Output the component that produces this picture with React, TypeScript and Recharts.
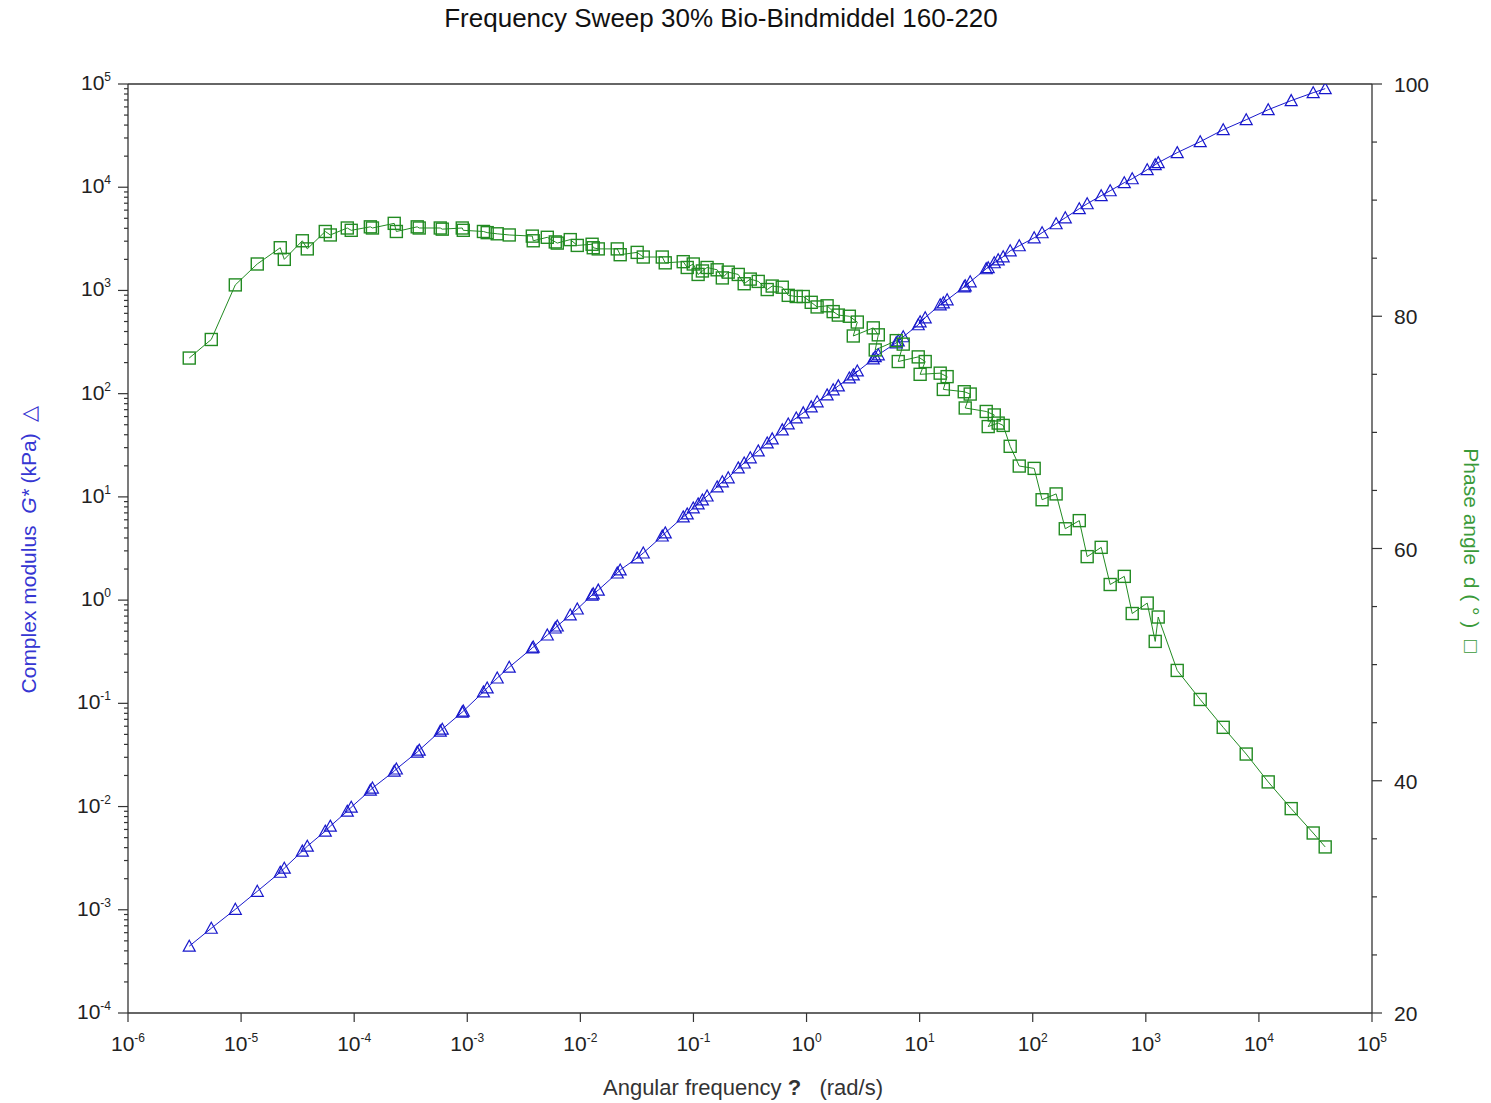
import { Label, Line, LineChart, ReferenceLine, XAxis, YAxis } from "recharts"

// master curve
const omega = [
  3.48e-6, 5.45e-6, 8.89e-6, 1.39e-5, 2.22e-5, 2.41e-5, 3.48e-5, 3.85e-5, 5.55e-5, 6.15e-5,
  8.69e-5, 9.42e-5, 1.39e-4, 1.45e-4, 2.26e-4, 2.36e-4, 3.61e-4, 3.76e-4, 5.77e-4, 6.01e-4,
  9.03e-4, 9.22e-4, 1.39e-3, 1.5e-3, 1.84e-3, 2.35e-3, 3.76e-3, 3.83e-3, 5.1e-3, 6.0e-3,
  6.25e-3, 8.14e-3, 9.39e-3, 1.27e-2, 1.3e-2, 1.44e-2, 2.12e-2, 2.25e-2, 3.18e-2, 3.6e-2,
  5.3e-2, 5.63e-2, 8.12e-2, 8.81e-2, 9.96e-2, 0.11, 0.12, 0.132, 0.162, 0.18,
  0.203, 0.249, 0.281, 0.318, 0.374, 0.449, 0.497, 0.61, 0.689, 0.811,
  0.935, 1.1, 1.24, 1.52, 1.72, 1.91, 2.39, 2.81, 2.59, 3.89,
  4.31, 4.05, 6.21, 7.16, 6.47, 9.72, 11.2, 10.1, 15.2, 17.5,
  16.2, 24.8, 28.0, 25.3, 38.8, 45.7, 40.4, 49.5, 54.8, 63.2,
  76.0, 103, 121, 161, 194, 258, 303, 403, 484, 645,
  758, 1029, 1211, 1287, 1895, 3027, 4835, 7723, 12085, 19300,
  30200, 38560,
]

// complex modulus G* (kPa)
const gStar = [
  4.44e-4, 6.62e-4, 1.01e-3, 1.51e-3, 2.31e-3, 2.53e-3, 3.7e-3, 4.13e-3, 5.78e-3, 6.46e-3,
  9.02e-3, 9.86e-3, 1.44e-2, 1.51e-2, 2.2e-2, 2.31e-2, 3.37e-2, 3.52e-2, 5.38e-2, 5.62e-2,
  8.22e-2, 8.41e-2, 0.129, 0.141, 0.176, 0.224, 0.344, 0.351, 0.459, 0.537,
  0.561, 0.718, 0.82, 1.12, 1.15, 1.25, 1.83, 1.96, 2.56, 2.86,
  4.18, 4.48, 6.4, 6.84, 7.82, 8.55, 9.34, 10.2, 12.5, 14.0,
  15.3, 19.1, 21.3, 23.9, 27.9, 33.3, 36.5, 44.6, 50.9, 58.2,
  65.2, 74.5, 83.4, 97.3, 109, 119, 142, 166, 152, 217,
  238, 228, 311, 356, 325, 465, 543, 497, 726, 811,
  759, 1084, 1213, 1109, 1622, 1854, 1660, 1982, 2118, 2421,
  2710, 3236, 3622, 4426, 5058, 6194, 6918, 8279, 9247, 11070,
  12080, 14790, 16520, 17300, 21630, 27610, 36060, 45080, 56360, 69020,
  82410, 90160,
]

// phase angle (deg)
const phase = [
  76.4, 78.0, 82.7, 84.5, 85.9, 84.9, 86.5, 85.8, 87.3, 87.0,
  87.6, 87.4, 87.7, 87.6, 88.0, 87.3, 87.7, 87.6, 87.6, 87.5,
  87.6, 87.4, 87.3, 87.2, 87.1, 87.0, 86.9, 86.5, 86.8, 86.4,
  86.3, 86.6, 86.1, 86.2, 85.9, 85.8, 85.8, 85.3, 85.5, 85.1,
  85.1, 84.6, 84.7, 84.2, 84.5, 83.6, 83.9, 84.2, 84.0, 83.3,
  83.8, 83.6, 82.8, 83.2, 83.0, 82.3, 82.6, 82.5, 81.8, 81.7,
  81.7, 81.2, 80.8, 80.9, 80.4, 80.1, 80.0, 79.5, 78.3, 79.0,
  78.4, 77.1, 77.9, 77.6, 76.1, 76.5, 76.1, 75.0, 75.1, 74.8,
  73.7, 73.5, 73.3, 72.1, 71.8, 71.5, 70.5, 70.8, 70.6, 68.8,
  67.1, 66.9, 64.2, 64.7, 61.7, 62.4, 59.3, 60.1, 56.9, 57.6,
  54.4, 55.3, 52.0, 54.1, 49.5, 47.0, 44.6, 42.3, 39.9, 37.6,
  35.5, 34.3,
]

const xTicks = [1e-6, 1e-5, 1e-4, 1e-3, 1e-2, 1e-1, 1, 1e1, 1e2, 1e3, 1e4, 1e5]
const gDecades = [1e-4, 1e-3, 1e-2, 1e-1, 1, 1e1, 1e2, 1e3, 1e4, 1e5]
const gTicks = gDecades.flatMap((d, i) =>
  i === gDecades.length - 1 ? [d] : [1, 2, 3, 4, 5, 6, 7, 8, 9].map((m) => d * m)
)
const phaseTicks = [20, 25, 30, 35, 40, 45, 50, 55, 60, 65, 70, 75, 80, 85, 90, 95, 100]
const phaseLabels = [20, 40, 60, 80, 100]

const data = omega.map((w, i) => ({ omega: w, g: gStar[i], d: phase[i] }))

const AXIS = "#333"
const BLUE = "#1818cc"
const GREEN = "#228b22"
const FONT = "'Liberation Sans', Arial, sans-serif"

const exponent = (v: number) => Math.round(Math.log10(v))
const isDecade = (v: number) => Math.abs(Math.log10(v) - exponent(v)) < 1e-6

const LeftTick = ({ x, y, payload }: any) => {
  const v = payload.value
  const major = isDecade(v)
  return (
    <g>
      <line x1={x - (major ? 10 : 4)} x2={x} y1={y} y2={y} stroke={AXIS} strokeWidth={1.2} />
      {major && (
        <text x={x - 17} y={y + 6} textAnchor="end" fontSize={21} fill="#222" fontFamily={FONT}>
          10
          <tspan dy={-9} fontSize={12}>{exponent(v)}</tspan>
        </text>
      )}
    </g>
  )
}

const BottomTick = ({ x, y, payload }: any) => {
  const v = payload.value
  return (
    <g>
      <line x1={x} x2={x} y1={y} y2={y + 9} stroke={AXIS} strokeWidth={1.2} />
      <text x={x} y={y + 38} textAnchor="middle" fontSize={21} fill="#222" fontFamily={FONT}>
        10
        <tspan dy={-9} fontSize={12}>{exponent(v)}</tspan>
      </text>
    </g>
  )
}

const RightTick = ({ x, y, payload }: any) => {
  const v = payload.value
  const major = phaseLabels.includes(v)
  return (
    <g>
      <line x1={x} x2={x + (major ? 10 : 5)} y1={y} y2={y} stroke={AXIS} strokeWidth={1.2} />
      {major && (
        <text x={x + 22} y={y + 8} textAnchor="start" fontSize={21} fill="#222" fontFamily={FONT}>
          {v}
        </text>
      )}
    </g>
  )
}

const Triangle = (props: any) => {
  const { cx, cy, index } = props
  if (cx == null || cy == null) return <g key={index} />
  return (
    <path
      key={index}
      d={`M${cx},${cy - 6} L${cx + 6},${cy + 5} L${cx - 6},${cy + 5} Z`}
      fill="none"
      stroke={BLUE}
      strokeWidth={1.2}
    />
  )
}

const Square = (props: any) => {
  const { cx, cy, index } = props
  if (cx == null || cy == null) return <g key={index} />
  return (
    <rect key={index} x={cx - 6} y={cy - 6} width={12} height={12} fill="none" stroke={GREEN} strokeWidth={1.4} />
  )
}

const LeftTitle = ({ viewBox }: any) => {
  const cx = viewBox.x + 28
  const cy = viewBox.y + viewBox.height / 2 + 1
  return (
    <text x={cx} y={cy} transform={`rotate(-90 ${cx} ${cy})`} textAnchor="middle" dominantBaseline="central"
      fontSize={21} fill="#3636d2" fontFamily={FONT} style={{ whiteSpace: "pre" }}>
      {"Complex modulus  "}
      <tspan fontStyle="italic">G*</tspan>
      {" (kPa)  \u25B3"}
    </text>
  )
}

const RightTitle = ({ viewBox }: any) => {
  const cx = viewBox.x + 99
  const cy = viewBox.y + viewBox.height / 2 + 2
  return (
    <text x={cx} y={cy} transform={`rotate(90 ${cx} ${cy})`} textAnchor="middle" dominantBaseline="central"
      fontSize={21} fill="#3a9a3a" fontFamily={FONT} style={{ whiteSpace: "pre" }}>
      {"Phase angle  d ( \u00B0 )  \u25A1"}
    </text>
  )
}

const BottomTitle = ({ viewBox }: any) => (
  <text x={viewBox.x + viewBox.width / 2 - 7} y={viewBox.y + 82} textAnchor="middle" fontSize={22}
    fill="#333" fontFamily={FONT} style={{ whiteSpace: "pre" }}>
    {"Angular frequency "}
    <tspan fontWeight="bold">?</tspan>
    {"   (rad/s)"}
  </text>
)

export default function App() {
  return (
    <div style={{ position: "absolute", left: 0, top: 0, width: 1491, height: 1103, background: "#fff" }}>
      <div
        style={{
          position: "absolute", left: 0, top: 5, width: 1442, textAlign: "center",
          fontFamily: FONT, fontSize: 26, lineHeight: "26px", color: "#111",
        }}
      >
        Frequency Sweep 30% Bio-Bindmiddel 160-220
      </div>
      <LineChart width={1491} height={1103} data={data} margin={{ top: 84, right: 0, bottom: 0, left: 0 }}>
        <XAxis
          dataKey="omega"
          type="number"
          scale="log"
          domain={[1e-6, 1e5]}
          ticks={xTicks}
          interval={0}
          allowDataOverflow
          height={90}
          tickSize={0}
          tickMargin={0}
          tick={<BottomTick />}
          axisLine={{ stroke: AXIS, strokeWidth: 1.3 }}
        >
          <Label content={<BottomTitle />} />
        </XAxis>
        <YAxis
          yAxisId="left"
          type="number"
          scale="log"
          domain={[1e-4, 1e5]}
          ticks={gTicks}
          interval={0}
          allowDataOverflow
          width={128}
          tickSize={0}
          tickMargin={0}
          tick={<LeftTick />}
          axisLine={{ stroke: AXIS, strokeWidth: 1.3 }}
        >
          <Label content={<LeftTitle />} />
        </YAxis>
        <YAxis
          yAxisId="right"
          orientation="right"
          type="number"
          domain={[20, 100]}
          ticks={phaseTicks}
          interval={0}
          allowDataOverflow
          width={119}
          tickSize={0}
          tickMargin={0}
          tick={<RightTick />}
          axisLine={{ stroke: AXIS, strokeWidth: 1.3 }}
        >
          <Label content={<RightTitle />} />
        </YAxis>
        <ReferenceLine yAxisId="left" y={1e5} stroke={AXIS} strokeWidth={1.3} />
        <Line
          yAxisId="left"
          dataKey="g"
          stroke={BLUE}
          strokeWidth={1}
          dot={Triangle}
          activeDot={false}
          isAnimationActive={false}
        />
        <Line
          yAxisId="right"
          dataKey="d"
          stroke={GREEN}
          strokeWidth={1}
          dot={Square}
          activeDot={false}
          isAnimationActive={false}
        />
      </LineChart>
    </div>
  )
}
